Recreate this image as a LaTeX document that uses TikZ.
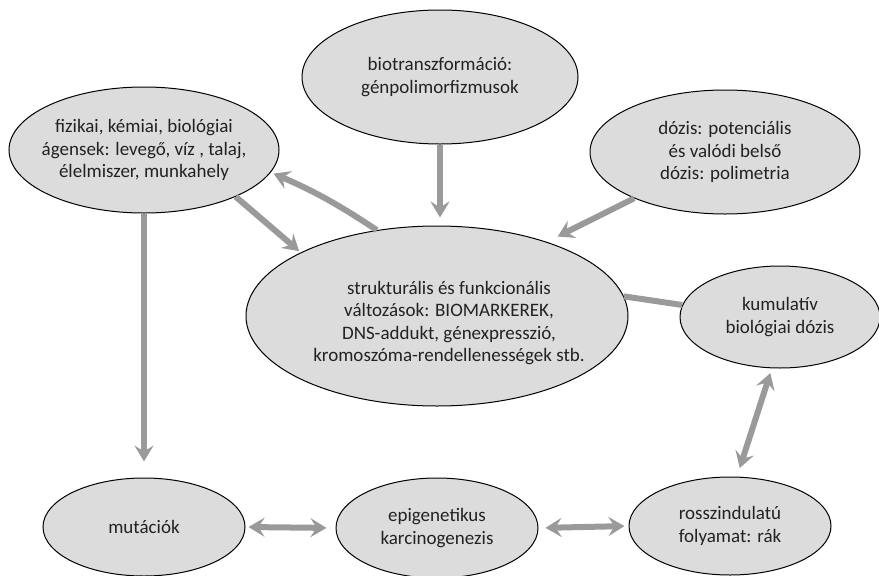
\documentclass[tikz,border=0pt]{standalone}
\usepackage{fontspec}
\setmainfont{Carlito}
\usetikzlibrary{arrows.meta,shapes.geometric}
\definecolor{ellfill}{HTML}{DCDCDC}
\definecolor{arrgray}{HTML}{9A9A9A}
\definecolor{txtcol}{HTML}{222222}
\begin{document}
\begin{tikzpicture}[x=1pt,y=-1pt,
  bub/.style={ellipse, draw=black, line width=1pt, fill=ellfill, inner sep=-30pt,
    align=center, text=txtcol, font=\fontsize{19}{22.5}\selectfont},
  lbl/.style={inner sep=0pt, align=center, text=txtcol, font=\fontsize{19}{22.5}\selectfont},
  con/.style={draw=arrgray, line width=6pt},
  arrw/.style={-{Stealth[length=16pt,width=19pt,inset=6pt]}},
  darrw/.style={{Stealth[length=16pt,width=19pt,inset=6pt]}-{Stealth[length=16pt,width=19pt,inset=6pt]}}
]
\useasboundingbox (0,0) rectangle (879,576);

\node[bub, minimum width=276pt, minimum height=134pt] (bio) at (440,77)
  {biotranszformáció:\\génpolimorfizmusok};
\node[bub, minimum width=270pt, minimum height=126pt] (fiz) at (144,150)
  {fizikai, kémiai, biológiai\\ágensek: levegő, víz , talaj,\\élelmiszer, munkahely};
\node[bub, minimum width=270pt, minimum height=124pt] (doz) at (725,152)
  {dózis: potenciális\\és valódi belső\\dózis: polimetria};
\node[bub, minimum width=382pt, minimum height=180pt] (cen) at (437,316) {};
\node[lbl] (cent) at (449,323)
  {strukturális és funkcionális\\változások: BIOMARKEREK,\\DNS-addukt, génexpresszió,\\kromoszóma-rendellenességek stb.};
\node[bub, minimum width=200pt, minimum height=102pt] (kum) at (780,317)
  {kumulatív\\biológiai dózis};
\node[bub, minimum width=202pt, minimum height=98pt] (mut) at (144,527)
  {mutációk};
\node[bub, minimum width=202pt, minimum height=100pt] (epi) at (437,528)
  {epigenetikus\\karcinogenezis};
\node[bub, minimum width=202pt, minimum height=98pt] (ros) at (730,526)
  {rosszindulatú\\folyamat: rák};

\draw[con,arrw,shorten >=2pt] (fiz.-27.6) -- (cen.155.6);
\draw[con,arrw,shorten >=3pt] (cen.125) to[bend right=5] (fiz.-10);
\draw[con,arrw,shorten >=8pt] (bio.south) -- (bio.south |- cen.north);
\draw[con,arrw,shorten >=12pt] (doz.207) -- (cen.34.5);
\draw[con] (cen.6.5) -- (kum.173);
\draw[con,darrw,shorten <=5pt,shorten >=9pt] (kum.-99) -- (ros.82);
\draw[con,darrw,shorten <=3pt,shorten >=9pt] (mut.east) -- (epi.west);
\draw[con,darrw,shorten <=7pt,shorten >=4pt] (epi.east) -- (ros.west);
\draw[con,arrw,shorten >=16pt] (fiz.south) -- (mut.north);
\end{tikzpicture}
\end{document}
